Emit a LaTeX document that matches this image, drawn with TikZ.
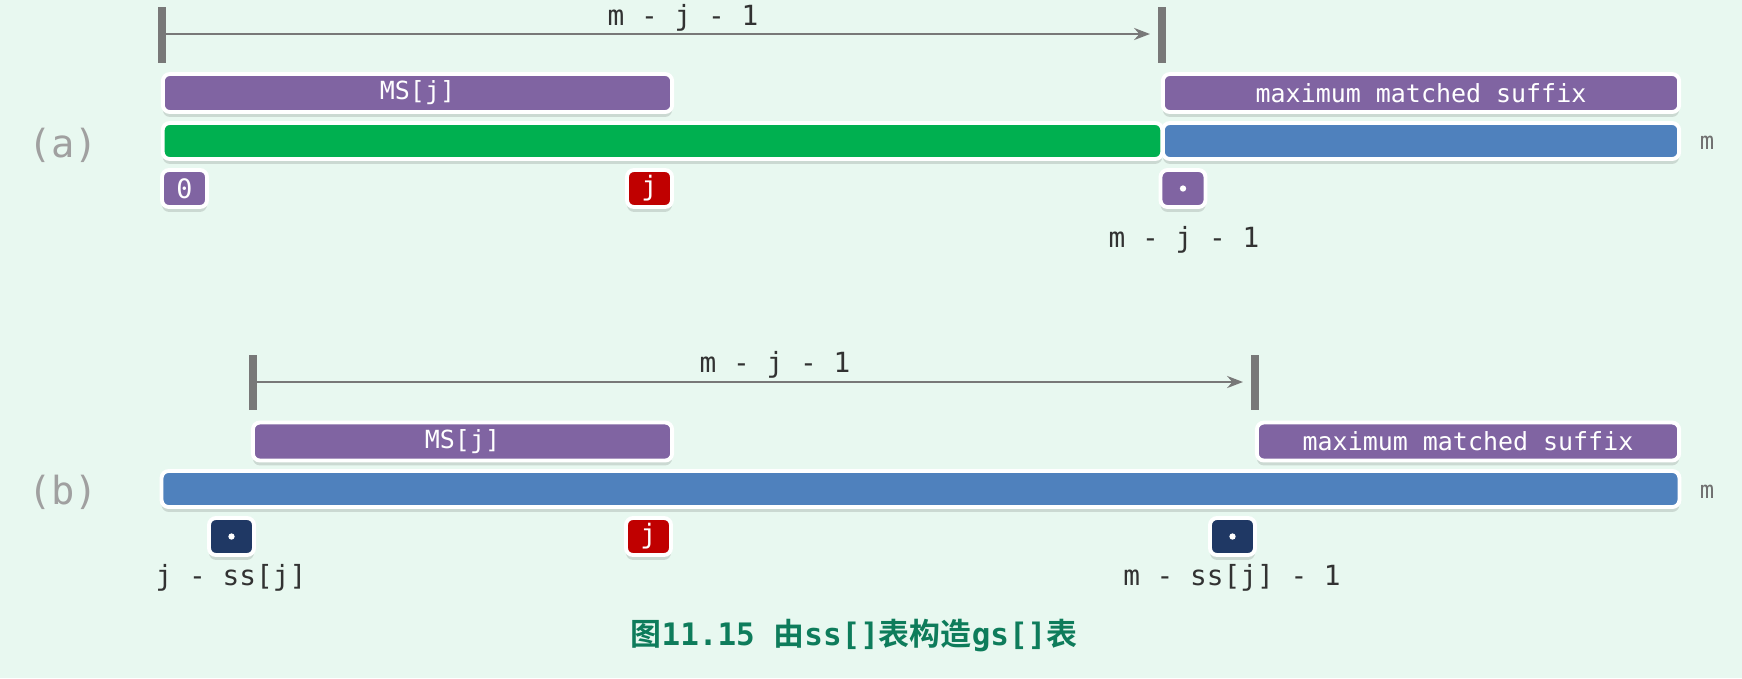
\documentclass[tikz,border=0pt]{standalone}
\usepackage{fontspec}
\newfontfamily\codefont{DejaVu Sans Mono}
\newfontfamily\cjkfont{Noto Sans CJK SC Bold}
\usetikzlibrary{arrows.meta}
\definecolor{bgmint}{RGB}{232,248,240}
\definecolor{msviolet}{RGB}{128,100,162}
\definecolor{prefgreen}{RGB}{0,176,80}
\definecolor{patblue}{RGB}{79,129,189}
\definecolor{idxred}{RGB}{192,0,0}
\definecolor{idxnavy}{RGB}{31,56,100}
\definecolor{tickgray}{RGB}{120,120,120}
\definecolor{labelgray}{RGB}{50,50,50}
\definecolor{partgray}{RGB}{160,160,160}
\definecolor{captgreen}{RGB}{14,124,91}

\begin{document}
\begin{tikzpicture}[x=0.01cm,y=-0.01cm,>=Stealth,
    seg/.style={rectangle,rounded corners=2pt,draw=white,line width=1.1pt,inner sep=0pt,
      text=white,font=\codefont\fontsize{7.1}{8}\selectfont,
      preaction={fill=black,opacity=0.12,transform canvas={yshift=-1.4pt}}},
    idx/.style={seg,minimum width=0.45cm,minimum height=0.37cm,font=\codefont\fontsize{7.6}{9}\selectfont},
    lbl/.style={text=labelgray,font=\codefont\fontsize{7.9}{9}\selectfont},
    part/.style={text=partgray,font=\codefont\fontsize{11}{13}\selectfont},
    tick/.style={draw=tickgray,line width=2.5pt},
    span/.style={draw=tickgray,line width=0.75pt,-{Stealth[length=4.5pt,width=3.4pt]}}]
    % background
    \fill[bgmint] (0,0) rectangle (1742,678);
    \useasboundingbox (0,0) rectangle (1742,678);

    % ---------- (a) ----------
    \node[part] (partA) at (63,145) {(a)};
    \coordinate (aL) at (162,34);
    \coordinate (aR) at (1162,34);
    \coordinate (aTip) at (1150,34);
    \draw[tick] (162,7) -- (162,63);
    \draw[tick] (1162,7) -- (1162,63);
    \draw[span] (aL) -- (aTip);
    \node[lbl] (lenA) at (683,18) {m - j - 1};

    \node[seg,fill=msviolet,minimum width=5.09cm,minimum height=0.38cm] (msA) at (417.5,93) {MS[j]};
    \node[seg,fill=msviolet,minimum width=5.16cm,minimum height=0.38cm] (sufA) at (1421,93) {maximum matched suffix};
    \node[seg,fill=prefgreen,minimum width=9.99cm,minimum height=0.36cm] (preA) at (662.5,141) {};
    \node[seg,fill=patblue,minimum width=5.16cm,minimum height=0.36cm] (tailA) at (1421,141) {};
    \node[lbl,text=partgray!70!black,font=\codefont\fontsize{6.8}{8}\selectfont] (mA) at (1707,143) {m};

    \node[idx,fill=msviolet] (zeroA) at (184.5,188.5) {0};
    \node[idx,fill=idxred] (jA) at (649.5,188.5) {j};
    \node[idx,fill=msviolet] (cutA) at (1183,188.5) {};
    \fill[white] (cutA.center) circle[radius=0.9pt];
    \node[lbl] (cutlblA) at (1184,240) {m - j - 1};

    % ---------- (b) ----------
    \node[part] (partB) at (63,492) {(b)};
    \coordinate (bL) at (253,382);
    \coordinate (bR) at (1255,382);
    \coordinate (bTip) at (1243,382);
    \draw[tick] (253,355) -- (253,410);
    \draw[tick] (1255,355) -- (1255,410);
    \draw[span] (bL) -- (bTip);
    \node[lbl] (lenB) at (775,365) {m - j - 1};

    \node[seg,fill=msviolet,minimum width=4.19cm,minimum height=0.38cm] (msB) at (462.5,441.5) {MS[j]};
    \node[seg,fill=msviolet,minimum width=4.22cm,minimum height=0.38cm] (sufB) at (1468,441.5) {maximum matched suffix};
    \node[seg,fill=patblue,minimum width=15.17cm,minimum height=0.36cm] (patB) at (920.5,489) {};
    \node[lbl,text=partgray!70!black,font=\codefont\fontsize{6.8}{8}\selectfont] (mB) at (1707,492) {m};

    \node[idx,fill=idxnavy] (lowB) at (231.5,536.5) {};
    \fill[white] (lowB.center) circle[radius=0.9pt];
    \node[idx,fill=idxred] (jB) at (648.5,536.5) {j};
    \node[idx,fill=idxnavy] (highB) at (1232.5,536.5) {};
    \fill[white] (highB.center) circle[radius=0.9pt];
    \node[lbl] (lowlblB) at (231,578) {j - ss[j]};
    \node[lbl] (highlblB) at (1232,578) {m - ss[j] - 1};

    % caption
    \node[text=captgreen,font=\cjkfont\fontsize{8.8}{10}\selectfont] (capt) at (854,636)
      {图{\codefont\bfseries 11.15 }由{\codefont\bfseries ss[]}表构造{\codefont\bfseries gs[]}表};
\end{tikzpicture}
\end{document}
